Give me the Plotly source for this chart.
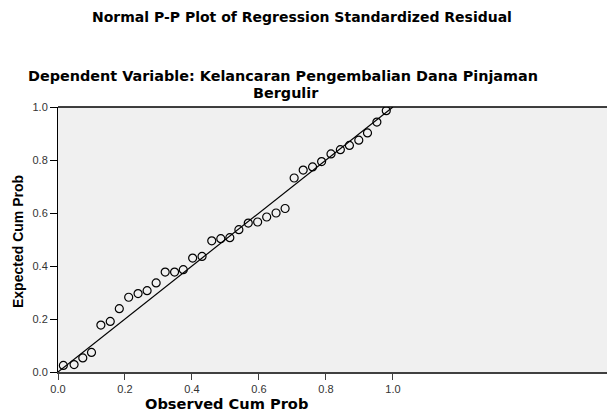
import plotly.graph_objects as go

observed_cum_prob = [0.016, 0.048, 0.074, 0.100, 0.128, 0.156, 0.183, 0.211, 0.239, 0.266,
                     0.293, 0.320, 0.348, 0.374, 0.402, 0.430, 0.459, 0.486, 0.513, 0.540,
                     0.568, 0.596, 0.623, 0.651, 0.678, 0.705, 0.732, 0.760, 0.787, 0.815,
                     0.843, 0.870, 0.898, 0.924, 0.952, 0.980]
expected_cum_prob = [0.025, 0.028, 0.053, 0.074, 0.177, 0.191, 0.239, 0.282, 0.296, 0.307,
                     0.336, 0.377, 0.377, 0.386, 0.430, 0.436, 0.495, 0.503, 0.507, 0.537,
                     0.562, 0.566, 0.585, 0.600, 0.617, 0.732, 0.762, 0.774, 0.794, 0.823,
                     0.839, 0.855, 0.875, 0.902, 0.943, 0.986]
ref_line_x = [0.0, 1.0]
ref_line_y = [0.0, 1.0]
tick_vals = [0.0, 0.2, 0.4, 0.6, 0.8, 1.0]
tick_text = ["0.0", "0.2", "0.4", "0.6", "0.8", "1.0"]

W, H = 607, 411
L, R, T, B = 58, 0, 107, 39
pw = W - L - R
ph = H - T - B

def px_x(px):
    return (px - L) / pw

def px_y(py):
    return (H - B - py) / ph

fig = go.Figure()
fig.add_trace(go.Scatter(x=ref_line_x, y=ref_line_y, mode="lines",
                         line=dict(color="black", width=1.2), hoverinfo="skip"))
fig.add_trace(go.Scatter(x=observed_cum_prob, y=expected_cum_prob, mode="markers",
                         marker=dict(symbol="circle-open", size=8, color="black",
                                     line=dict(width=1.2, color="black"))))

fig.update_layout(
    width=W, height=H,
    margin=dict(l=L, r=R, t=T, b=B),
    paper_bgcolor="white",
    plot_bgcolor="#F0F0F0",
    showlegend=False,
    font=dict(family="Liberation Sans", color="black"),
    xaxis=dict(range=[0, 1.639], tickvals=tick_vals, ticktext=tick_text,
               showgrid=False, zeroline=False, showline=True, linecolor="#404040",
               linewidth=2, ticks="outside", ticklen=6, tickcolor="#404040",
               tickfont=dict(size=11, color="#333")),
    yaxis=dict(range=[0, 1.0], tickvals=tick_vals, ticktext=tick_text,
               showgrid=False, zeroline=False, showline=True, linecolor="black",
               linewidth=1, ticks="outside", ticklen=7, tickcolor="black",
               tickfont=dict(size=11, color="#333")),
)

fig.add_shape(type="line", xref="paper", yref="paper", x0=0, x1=1, y0=1, y1=1,
              line=dict(color="black", width=1.5))

wide = "DejaVu Sans"
ann = [
    dict(text="<b>Normal P-P Plot of Regression Standardized Residual</b>",
         x=px_x(302), y=px_y(17), size=14),
    dict(text="<b>Dependent Variable: Kelancaran Pengembalian Dana Pinjaman</b>",
         x=px_x(283), y=px_y(76), size=14.4),
    dict(text="<b>Bergulir</b>", x=px_x(286), y=px_y(93), size=14.4),
    dict(text="<b>Observed Cum Prob</b>", x=px_x(226), y=px_y(403.5), size=14.6),
]
for a in ann:
    fig.add_annotation(text=a["text"], x=a["x"], y=a["y"], xref="paper", yref="paper",
                       showarrow=False, xanchor="center", yanchor="middle", borderpad=0,
                       font=dict(family=wide, size=a["size"], color="black"))
fig.add_annotation(text="<b>Expected Cum Prob</b>", x=px_x(18), y=px_y(241),
                   xref="paper", yref="paper", showarrow=False, textangle=-90,
                   xanchor="center", yanchor="middle",
                   font=dict(family="Liberation Sans", size=14, color="black"))

fig.write_html("out.html", config={"displayModeBar": False},
               post_script="document.body.style.margin='0';")
